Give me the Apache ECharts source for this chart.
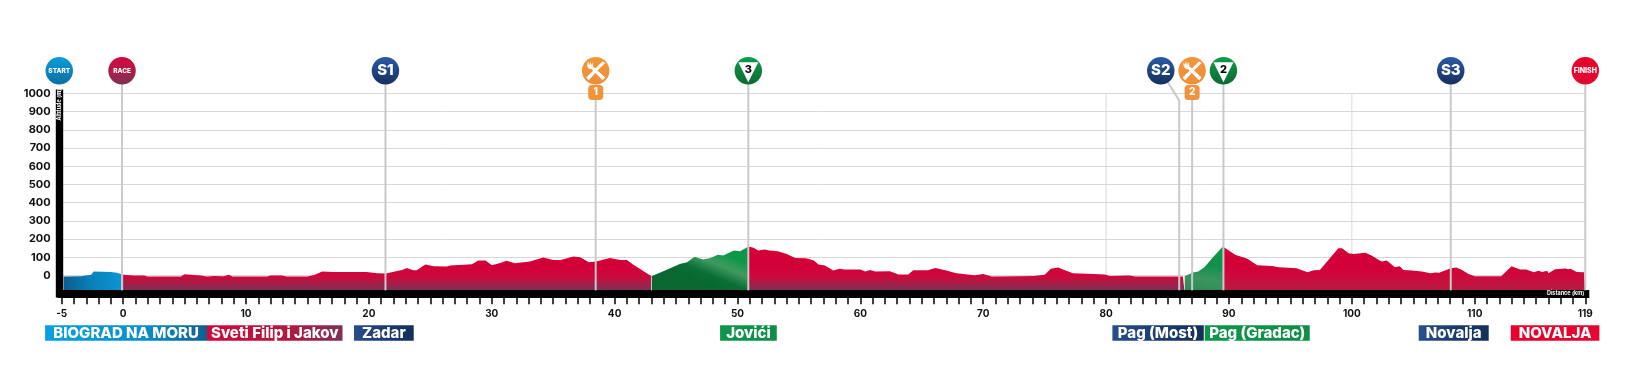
<!DOCTYPE html>
<html>
<head>
<meta charset="utf-8">
<title>Stage profile</title>
<script src="https://cdn.jsdelivr.net/npm/echarts@6/dist/echarts.min.js"></script>
<style>
html, body { margin: 0; padding: 0; background: #ffffff; }
#main { width: 1626px; height: 370px; }
</style>
</head>
<body>
<div id="main"></div>
<script>
// profile
var distanceKm = [
  -4.85, -3.45, -2.6, -2.4, -1, -0.5, 0,
  0.9, 1.7, 2, 4.7, 5, 5.5, 6.3, 6.8, 7.4, 8.2, 8.6, 8.9, 11.7, 12, 12.9, 13.3, 15, 15.6, 16.2, 17.1, 19.8,
  20.7, 21.4, 22.2, 22.7, 23.1, 23.6, 23.9, 24.6, 25.3, 26.35, 26.6, 28.4, 28.9, 29.5, 30, 30.55, 31.2, 31.9,
  33.1, 34.2, 35, 35.6, 36.65, 37.2, 37.9, 38.5, 39.6, 40.45, 41, 41.5, 43,
  44.2, 45.3, 45.9, 46.5, 47.2, 47.8, 48.4, 48.85, 49.7, 50.2, 50.9,
  51.3, 51.7, 52.2, 52.6, 53.3, 54, 54.7, 55.6, 56.2, 56.6, 57.1, 57.8, 58.3, 58.7, 60, 60.4, 60.8, 61.2, 62.4,
  63.1, 63.9, 64.3, 65.5, 66.1, 67, 67.8, 69.3, 70, 70.7, 72.7, 74.1, 75, 75.5, 76.1, 76.6, 77.3, 79, 79.9,
  80.3, 81.9, 82.4, 86.25, 86.4,
  87.06, 87.5, 88, 88.7, 89.2, 89.5,
  90.5, 91.5, 92.3, 93.5, 94.05, 95.5, 96.4, 96.9, 97.4, 98.9, 99.2, 99.74, 100.15, 101.1, 101.6, 102.2, 102.45,
  102.85, 103.5, 103.9, 104.2, 104.9, 105.7, 106.4, 106.8, 107.1, 108, 108.5, 109, 109.5, 110, 112.15, 113,
  113.7, 114.2, 114.8, 115.2, 115.5, 115.9, 116, 116.55, 117.4, 117.6, 117.8, 118.3, 118.9, 119
];
var altitudeM = [
  -5, -4, 5, 22, 20, 15, 5,
  0, 0, -5, -5, 7, 5, 0, -5, -2, -4, 5, -5, -5, 0, 0, -5, -5, 4, 22, 20, 20,
  13, 11, 24, 31, 42, 29, 29, 61, 51, 50, 55, 62, 83, 83, 57, 66, 81, 68,
  77, 99, 86, 86, 105, 101, 73, 77, 97, 86, 86, 61, -4,
  31, 64, 73, 103, 88, 97, 114, 110, 138, 134, 160,
  153, 138, 143, 138, 134, 119, 97, 95, 83, 61, 55, 28, 37, 33, 33, 22, 31, 22, 24,
  6, 6, 29, 29, 42, 28, 13, 2, 9, -5, -4, -2, 4, 37, 44, 31, 13, 9, 6,
  -2, 0, -5, -5, -4,
  17, 22, 46, 101, 138, 160,
  114, 92, 57, 53, 46, 40, 18, 29, 31, 150, 150, 123, 118, 125, 110, 86, 77,
  83, 46, 51, 31, 28, 22, 13, 17, 15, 39, 44, 29, 9, -4, -4, 51,
  33, 33, 18, 26, 20, 26, 13, 35, 39, 35, 37, 20, 18, 18
];

var sectionStart = [-4.85, 0, 43, 50.9, 86.4, 89.5];
var sectionEnd = [0, 43, 50.9, 86.4, 89.5, 119];

// tick labels
var yTickLabels = [0, 100, 200, 300, 400, 500, 600, 700, 800, 900, 1000];
var xTickLabels = [-5, 0, 10, 20, 30, 40, 50, 60, 70, 80, 90, 100, 110, 119];

// top markers
var markerKm = [-5.2, -0.09, 21.35, 38.46, 50.88, 84.45, 87, 89.55, 108.05, 119];
var markerText = ['START', 'RACE', 'S1', '', '3', 'S2', '', '2', 'S3', 'FINISH'];
var markerKind = ['start', 'race', 'sprint', 'food', 'climb', 'sprint', 'food', 'climb', 'sprint', 'finish'];
var foodKm = [38.46, 87];
var foodText = ['1', '2'];
var guideKm = [-0.09, 21.35, 50.88, 89.55, 108.05, 119];
var sprint2Km = [85.95, 85.95, 84.45];
var sprint2Alt = [-81, 960, 1124];
var plainLineKm = [80, 100];
var plainLineTop = [1000, 1000];
var plainLineBottom = [2, 118];

// places under the axis
var placeKm = [0.24, 12.34, 21.22, 50.89, 84.23, 92.3, 108.29, 116.54];
var placeText = ['BIOGRAD NA MORU', 'Sveti Filip i Jakov', 'Zadar', 'Jovići', 'Pag (Most)', 'Pag (Gradac)', 'Novalja', 'NOVALJA'];
var placeKind = ['bluePlace', 'redPlace', 'navyPlace', 'greenPlace', 'navyPlace', 'greenPlace', 'navyPlace', 'finishPlace'];
var placeWidth = [162, 135.5, 59.7, 56.7, 91.4, 105, 70, 88.6];

var FONT = 'Inter';
var MARKER_ALT = 1124;
var BADGE_ALT = 1005;
var PLACE_ALT = -315;
var BASE_ALT = -81;

function grad(x, y, x2, y2, stops) {
  var list = [];
  for (var i = 0; i < stops.length; i++) {
    list.push({ offset: stops[i][0], color: stops[i][1] });
  }
  return new echarts.graphic.LinearGradient(x, y, x2, y2, list);
}
function downGrad(top, bottom) {
  return grad(0, 0, 0, 1, [[0, top], [1, bottom]]);
}
// pixel based so low parts of the profile still reach the dark colour at the base
function redFill(bottom) {
  return new echarts.graphic.LinearGradient(0, 268, 0, 290, [
    { offset: 0, color: '#d30037' },
    { offset: 0.4, color: '#cc0a3b' },
    { offset: 1, color: bottom }
  ], true);
}

var sectionFill = [
  grad(0, 0.6, 1, 0.2, [[0, '#0b5d8e'], [0.45, '#0a7fb8'], [1, '#0a97d6']]),
  redFill('#7f3055'),
  grad(1, 0, 0.8, 1, [[0, '#0d9a47'], [0.3, '#0e9649'], [0.55, '#3f9a60'], [0.8, '#0a6f35'], [1, '#08682f']]),
  redFill('#7f3055'),
  grad(1, 0, 0.8, 1, [[0, '#0b9a48'], [0.4, '#0e9148'], [0.75, '#3c9560'], [1, '#2e8a55']]),
  redFill('#b41c41')
];

var markerFill = {
  start: downGrad('#0d9ddb', '#0b6ea3'),
  race: downGrad('#da053c', '#7e3156'),
  sprint: downGrad('#2a5ba6', '#172f5e'),
  food: downGrad('#f39536', '#ee8f3c'),
  climb: downGrad('#0f9c4a', '#0c6a32'),
  finish: downGrad('#ea0029', '#e00a30')
};
var placeFill = {
  bluePlace: grad(0, 0, 1, 0, [[0, '#0aa0df'], [0.6, '#0a90cc'], [1, '#0f5f90']]),
  redPlace: grad(0, 0, 1, 0, [[0, '#cf0a3c'], [0.6, '#b2183f'], [1, '#7c3156']]),
  navyPlace: grad(0, 0, 1, 0, [[0, '#264f8e'], [0.5, '#1c3c6e'], [1, '#14305a']]),
  greenPlace: grad(0, 0, 1, 0, [[0, '#0e964a'], [1, '#0e8e46']]),
  finishPlace: grad(0, 0, 1, 0, [[0, '#e6002c'], [1, '#e6062f']])
};

var series = [];

// thin lines at 80 and 100 sit behind the hills
for (var p = 0; p < plainLineKm.length; p++) {
  series.push({
    type: 'line', z: 1, silent: true, showSymbol: false, symbol: 'none',
    data: [[plainLineKm[p], plainLineBottom[p]], [plainLineKm[p], plainLineTop[p]]],
    lineStyle: { color: '#d9d9d9', width: 1 }
  });
}

// one area per coloured section
for (var s = 0; s < sectionStart.length; s++) {
  var points = [];
  for (var i = 0; i < distanceKm.length; i++) {
    if (distanceKm[i] >= sectionStart[s] && distanceKm[i] <= sectionEnd[s]) {
      points.push([distanceKm[i], altitudeM[i]]);
    }
  }
  series.push({
    type: 'line', z: 2, silent: true, showSymbol: false, symbol: 'none',
    data: points,
    lineStyle: { width: 0 },
    areaStyle: { color: sectionFill[s], opacity: 1, origin: 'start' }
  });
}

// grey guides from the base up to the markers
for (var g = 0; g < guideKm.length; g++) {
  series.push({
    type: 'line', z: 4, silent: true, showSymbol: false, symbol: 'none', clip: false,
    data: [[guideKm[g], BASE_ALT], [guideKm[g], MARKER_ALT]],
    lineStyle: { color: '#c9c9c9', width: 2 }
  });
}
for (var f = 0; f < foodKm.length; f++) {
  series.push({
    type: 'line', z: 4, silent: true, showSymbol: false, symbol: 'none', clip: false,
    data: [[foodKm[f], BASE_ALT], [foodKm[f], BADGE_ALT]],
    lineStyle: { color: '#c9c9c9', width: 2 }
  });
}
var sprint2Points = [];
for (var k = 0; k < sprint2Km.length; k++) {
  sprint2Points.push([sprint2Km[k], sprint2Alt[k]]);
}
series.push({
  type: 'line', z: 4, silent: true, showSymbol: false, symbol: 'none', clip: false,
  data: sprint2Points,
  lineStyle: { color: '#c9c9c9', width: 2 }
});
// small seam where the first climb starts
series.push({
  type: 'line', z: 4, silent: true, showSymbol: false, symbol: 'none',
  data: [[43, BASE_ALT], [43, -5]],
  lineStyle: { color: '#c9c9c9', width: 1 }
});

// marker discs
var discData = [];
for (var m = 0; m < markerKm.length; m++) {
  var kind = markerKind[m];
  var size = 7;
  if (kind === 'sprint') size = 15;
  if (kind === 'race') size = 6.5;
  if (kind === 'start') size = 6.5;
  discData.push({
    value: [markerKm[m], MARKER_ALT],
    itemStyle: { color: markerFill[kind], opacity: 1 },
    label: {
      show: kind !== 'food' && kind !== 'climb',
      formatter: markerText[m],
      position: 'inside',
      color: '#ffffff',
      fontFamily: FONT,
      fontWeight: 800,
      fontSize: size
    }
  });
}
series.push({
  type: 'scatter', z: 6, silent: true, clip: false,
  symbol: 'circle', symbolSize: 27.5,
  data: discData
});

// white triangle with the climb category
var climbData = [];
var iconData = [];
for (var c = 0; c < markerKm.length; c++) {
  if (markerKind[c] === 'climb') {
    climbData.push({
      value: [markerKm[c], MARKER_ALT],
      label: {
        show: true, formatter: markerText[c], position: 'inside', offset: [0, -3],
        color: '#000000', fontFamily: FONT, fontWeight: 800, fontSize: 11
      }
    });
  }
  if (markerKind[c] === 'food') {
    iconData.push([markerKm[c], MARKER_ALT]);
  }
}
series.push({
  type: 'scatter', z: 7, silent: true, clip: false,
  symbol: 'triangle', symbolRotate: 180, symbolSize: [20, 20], symbolOffset: [0, 1.5],
  itemStyle: { color: '#ffffff', opacity: 1 },
  data: climbData
});

// fork and knife
series.push({
  type: 'scatter', z: 7, silent: true, clip: false,
  symbol: 'path://M20 1 L23 3 L13 13 L4 23 L1 20 L11 10 Z M2 1 L3 6 L4 1 L5 6 L6 1 L7 6 L8 2 L9 7 L23 20 L20 23 L7 10 C4 10 2 8 2 5 Z',
  symbolSize: 19,
  itemStyle: { color: '#ffffff', opacity: 1 },
  data: iconData
});

// feed zone number badge
var badgeData = [];
for (var b = 0; b < foodKm.length; b++) {
  badgeData.push({
    value: [foodKm[b], BADGE_ALT],
    label: {
      show: true, formatter: foodText[b], position: 'inside',
      color: '#ffffff', fontFamily: FONT, fontWeight: 800, fontSize: 10
    }
  });
}
series.push({
  type: 'scatter', z: 6, silent: true, clip: false,
  symbol: 'roundRect', symbolSize: [15, 15],
  itemStyle: { color: '#f1933c', opacity: 1 },
  data: badgeData
});

// place names
var placeData = [];
for (var n = 0; n < placeKm.length; n++) {
  placeData.push({
    value: [placeKm[n], PLACE_ALT],
    symbolSize: [placeWidth[n], 15.5],
    itemStyle: { color: placeFill[placeKind[n]], opacity: 1 },
    label: {
      show: true, formatter: placeText[n], position: 'inside',
      color: '#ffffff', fontFamily: FONT, fontWeight: 800, fontSize: 15
    }
  });
}
series.push({
  type: 'scatter', z: 6, silent: true, clip: false,
  symbol: 'rect',
  data: placeData
});

// captions printed on the black axis bars
series.push({
  type: 'scatter', z: 8, silent: true, clip: false,
  symbol: 'circle', symbolSize: 1,
  itemStyle: { color: '#000000', opacity: 1 },
  data: [
    {
      value: [117.4, -100],
      label: {
        show: true, formatter: 'Distance (km)', position: 'inside',
        color: '#ffffff', fontFamily: FONT, fontWeight: 700, fontSize: 5.5
      }
    },
    {
      value: [-5.16, 938],
      label: {
        show: true, formatter: 'Altitude (m)', position: 'inside', rotate: 90,
        color: '#ffffff', fontFamily: FONT, fontWeight: 700, fontSize: 5.5
      }
    }
  ]
});

var chart = echarts.init(document.getElementById('main'));
chart.setOption({
  animation: false,
  backgroundColor: '#ffffff',
  grid: { left: 61.7, right: 40.7, top: 93.3, height: 200.5, containLabel: false },
  xAxis: {
    type: 'value',
    min: -5,
    max: 119,
    interval: 1,
    z: 3,
    splitLine: { show: false },
    axisLine: { onZero: false, lineStyle: { color: '#000000', width: 8, cap: 'square' } },
    axisTick: { show: true, length: 10.5, lineStyle: { color: '#000000', width: 1.5 } },
    axisLabel: {
      interval: 0,
      margin: 15,
      hideOverlap: false,
      color: '#111111',
      fontFamily: FONT,
      fontWeight: 700,
      fontSize: 10,
      formatter: function (v) {
        return xTickLabels.indexOf(v) >= 0 ? String(v) : '';
      }
    }
  },
  yAxis: {
    type: 'value',
    min: -100,
    max: 1000,
    interval: 100,
    offset: 2,
    splitLine: { show: true, lineStyle: { color: '#d8d8d8', width: 1 } },
    axisLine: { show: true, onZero: false, lineStyle: { color: '#000000', width: 7.4, cap: 'square' } },
    axisTick: { show: false },
    axisLabel: {
      margin: 9,
      color: '#111111',
      fontFamily: FONT,
      fontWeight: 700,
      fontSize: 11,
      formatter: function (v) {
        return yTickLabels.indexOf(v) >= 0 ? String(v) : '';
      }
    }
  },
  series: series
});
</script>
</body>
</html>
